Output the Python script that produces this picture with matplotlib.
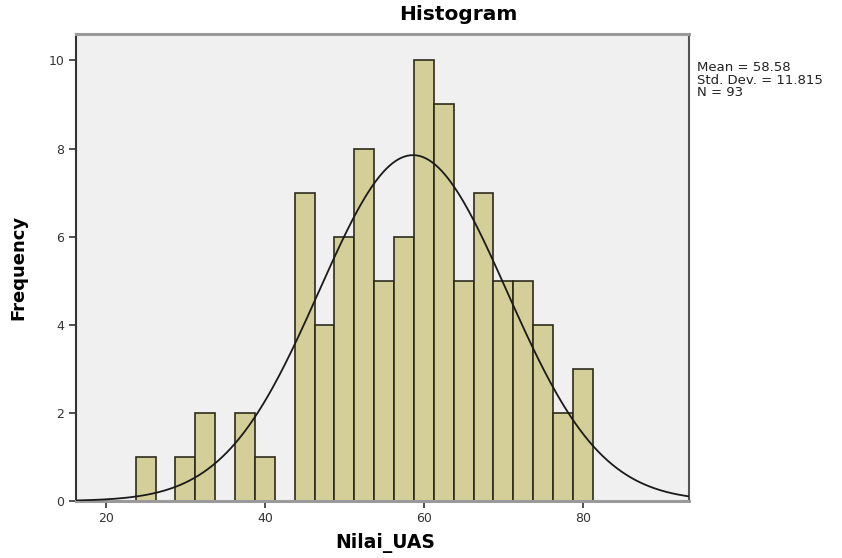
import numpy as np
import matplotlib
matplotlib.use("Agg")
import matplotlib.pyplot as plt

# ---- data ----
counts = [1, 0, 1, 2, 0, 2, 1, 0, 7, 4, 6, 8, 5, 6, 10, 9, 5, 7, 5, 5, 4, 2, 3]
bin_start = 23.7
bin_width = 2.5
mean_val = 58.58
std_val = 11.815
n_val = 93
x_ticks = [20, 40, 60, 80]
y_ticks = [0, 2, 4, 6, 8, 10]

plt.rcParams['font.family'] = ['DejaVu Sans']

fig = plt.figure(figsize=(8.42, 5.58), dpi=100)
ax = fig.add_axes([76/842, 57/558, 613/842, 467/558])
ax.set_facecolor('#f0f0f0')

edges = bin_start + bin_width * np.arange(len(counts) + 1)
ax.bar(edges[:-1], counts, width=bin_width, align='edge',
       color='#d4cf98', edgecolor='#2e2b1c', linewidth=1.2, zorder=2)

xlim = (16.2, 93.3)
xs = np.linspace(xlim[0], xlim[1], 400)
ys = n_val * bin_width / (std_val * np.sqrt(2 * np.pi)) * np.exp(-0.5 * ((xs - mean_val) / std_val) ** 2)
ax.plot(xs, ys, color='#1a1a1a', linewidth=1.3, zorder=3)

ax.set_xlim(*xlim)
ax.set_ylim(0, 10.6)
ax.set_xticks(x_ticks)
ax.set_yticks(y_ticks)
ax.tick_params(axis='both', labelsize=9, colors='#333333', length=5, width=1.2, direction='out')
ax.tick_params(axis='x', pad=3)

ax.spines['top'].set_color('#9a9a9a')
ax.spines['top'].set_linewidth(2.2)
ax.spines['bottom'].set_color('#9a9a9a')
ax.spines['bottom'].set_linewidth(2.2)
ax.spines['left'].set_color('#333333')
ax.spines['left'].set_linewidth(1.5)
ax.spines['right'].set_color('#555555')
ax.spines['right'].set_linewidth(1.5)

fig.text(458/842, 1 - 15/558, 'Histogram', ha='center', va='center',
         fontsize=14.5, fontweight='bold')
fig.text(385/842, 1 - 543/558, 'Nilai_UAS', ha='center', va='center',
         fontsize=13.5, fontweight='bold')
fig.text(18/842, 1 - 267/558, 'Frequency', ha='center', va='center',
         rotation=90, fontsize=13, fontweight='bold')
fig.text(697/842, 1 - 61/558,
         'Mean = %.2f\nStd. Dev. = %.3f\nN = %d' % (mean_val, std_val, n_val),
         ha='left', va='top', fontsize=9.5, color='#222222', linespacing=0.95)

fig.savefig('out.png', dpi=100, facecolor='white')
